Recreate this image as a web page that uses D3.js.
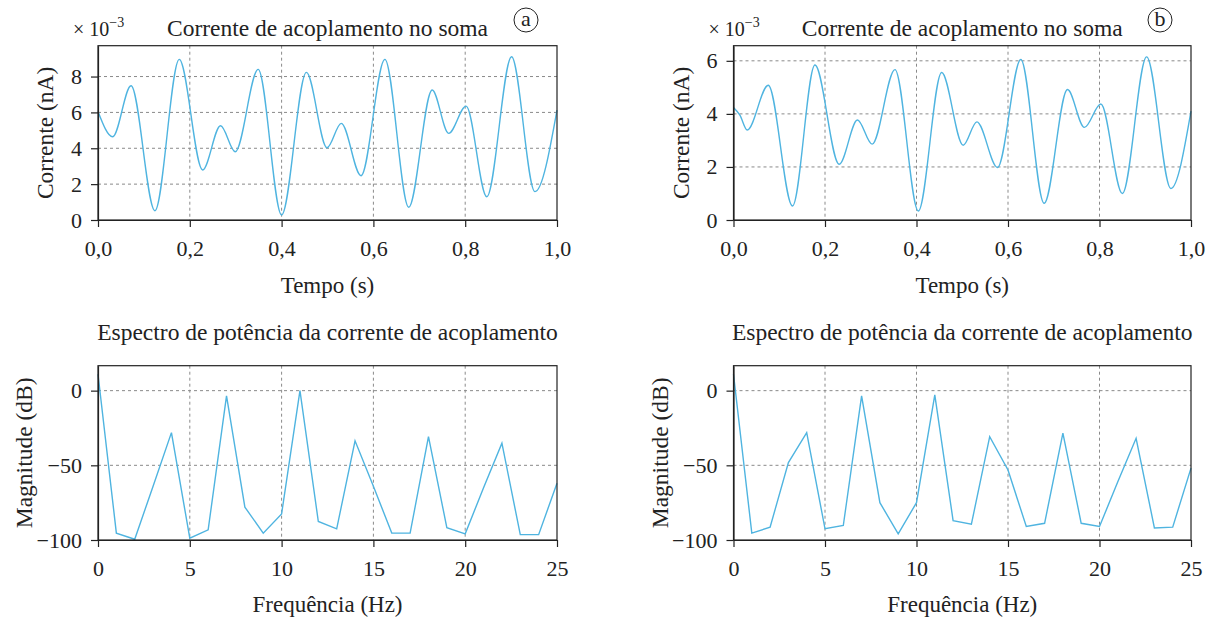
<!DOCTYPE html>
<html>
<head>
<meta charset="utf-8">
<script src="https://cdn.jsdelivr.net/npm/d3@7"></script>
<style>
  body { margin: 0; background: #fff; }
  svg text { font-family: "Liberation Serif", "DejaVu Serif", serif; fill: #222; }
</style>
</head>
<body>
<div id="chart"></div>
<script>
// coupling current in the soma (x 10^-3 nA), read at the extrema of the trace
const timeA = [0, 0.032, 0.072, 0.124, 0.177, 0.228, 0.267, 0.299, 0.349, 0.400, 0.454, 0.499,
  0.530, 0.573, 0.625, 0.677, 0.728, 0.764, 0.802, 0.847, 0.901, 0.952, 1.0];
const currentA = [6.05, 4.64, 7.49, 0.52, 8.96, 2.79, 5.26, 3.81, 8.40, 0.28, 8.23, 4.03,
  5.39, 2.47, 8.96, 0.71, 7.25, 4.83, 6.35, 1.30, 9.10, 1.58, 6.13];

const timeB = [0, 0.014, 0.030, 0.076, 0.129, 0.178, 0.231, 0.271, 0.303, 0.353, 0.404, 0.455,
  0.502, 0.532, 0.577, 0.628, 0.679, 0.730, 0.767, 0.803, 0.850, 0.903, 0.956, 1.0];
const currentB = [4.24, 3.95, 3.39, 5.08, 0.53, 5.84, 2.10, 3.77, 2.86, 5.67, 0.34, 5.56,
  2.82, 3.70, 1.98, 6.05, 0.63, 4.92, 3.49, 4.37, 1.00, 6.15, 1.19, 4.10];

// power spectrum (dB)
const freqHz = [0, 1, 2, 3, 4, 5, 6, 7, 8, 9, 10, 11, 12, 13, 14, 15, 16, 17, 18, 19, 20, 21, 22, 23, 24, 25];
const magnitudeA = [11, -95.4, -99.5, -64, -28.1, -98.8, -93.2, -3.5, -78.0, -95.4, -82.5, 0, -87.6,
  -92.5, -33.6, -64, -95.4, -95.4, -30.8, -91.7, -95.9, -65, -35.2, -96.4, -96.4, -62.0];
const magnitudeB = [11, -95.4, -91.4, -48.2, -28.1, -92.5, -90.3, -3.5, -75.0, -95.9, -75.0, -2.9, -87.0,
  -89.4, -30.8, -53.1, -91.0, -88.8, -28.5, -88.8, -91.0, -61, -31.9, -91.9, -91.4, -51.9];

const timeTicks = [0, 0.2, 0.4, 0.6, 0.8, 1.0];
const currentTicksA = [0, 2, 4, 6, 8];
const currentTicksB = [0, 2, 4, 6];
const freqTicks = [0, 5, 10, 15, 20, 25];
const dbTicks = [-100, -50, 0];

const W = 1210, H = 620;
const lineColor = '#4fb4e0';
const serif = '"Liberation Serif", "DejaVu Serif", serif';

const svg = d3.select('#chart').append('svg')
  .attr('width', W)
  .attr('height', H);

svg.append('rect').attr('width', W).attr('height', H).attr('fill', '#fff');

const fmtComma = d => d.toFixed(1).replace('.', ',');
const fmtMinus = d => (d < 0 ? '\u2212' : '') + Math.abs(d);

function drawPanel(p) {
  const width = p.right - p.left;
  const height = p.bottom - p.top;

  const g = svg.append('g')
    .attr('transform', `translate(${p.left}, ${p.top})`);

  const xScale = d3.scaleLinear().domain(p.xDomain).range([0, width]);
  const yScale = d3.scaleLinear().domain(p.yDomain).range([height, 0]);

  // grid
  g.append('g').selectAll('line')
    .data(p.yTicks.filter(d => yScale(d) > 1 && yScale(d) < height - 1))
    .join('line')
    .attr('x1', 0).attr('x2', width)
    .attr('y1', d => yScale(d)).attr('y2', d => yScale(d))
    .attr('stroke', '#8a8a8a').attr('stroke-width', 1).attr('stroke-dasharray', '3,3');

  g.append('g').selectAll('line')
    .data(p.xTicks.filter(d => xScale(d) > 1 && xScale(d) < width - 1))
    .join('line')
    .attr('x1', d => xScale(d)).attr('x2', d => xScale(d))
    .attr('y1', 0).attr('y2', height)
    .attr('stroke', '#8a8a8a').attr('stroke-width', 1).attr('stroke-dasharray', '3,3');

  // data line
  const line = d3.line()
    .x(d => xScale(d[0]))
    .y(d => yScale(d[1]))
    .curve(p.curve);

  g.append('path')
    .datum(p.xs.map((x, i) => [x, p.ys[i]]))
    .attr('d', line)
    .attr('fill', 'none')
    .attr('stroke', lineColor)
    .attr('stroke-width', 1.4);

  // box
  g.append('rect')
    .attr('width', width).attr('height', height)
    .attr('fill', 'none').attr('stroke', '#222').attr('stroke-width', 1.2);

  const xAxis = d3.axisBottom(xScale).tickValues(p.xTicks).tickFormat(p.xFormat)
    .tickSizeInner(7).tickSizeOuter(0).tickPadding(13);
  const yAxis = d3.axisLeft(yScale).tickValues(p.yTicks).tickFormat(p.yFormat)
    .tickSizeInner(7).tickSizeOuter(0).tickPadding(9);

  const gx = g.append('g').attr('transform', `translate(0, ${height})`).call(xAxis);
  const gy = g.append('g').call(yAxis);
  [gx, gy].forEach(a => {
    a.attr('font-family', null).attr('font-size', null);
    a.select('.domain').attr('stroke', '#222').attr('stroke-width', 1.2);
    a.selectAll('.tick line').attr('stroke', '#222').attr('stroke-width', 1.2);
    a.selectAll('.tick text')
      .style('font-family', serif)
      .style('font-size', '22px')
      .style('fill', '#222');
  });

  // title
  g.append('text')
    .attr('x', width / 2).attr('y', p.titleY - p.top)
    .attr('text-anchor', 'middle')
    .style('font-size', '23.5px')
    .text(p.title);

  // x label
  g.append('text')
    .attr('x', width / 2).attr('y', height + p.xLabelDy)
    .attr('text-anchor', 'middle')
    .style('font-size', '23px')
    .text(p.xLabel);

  // y label
  g.append('text')
    .attr('transform', `translate(${p.yLabelX - p.left}, ${height / 2}) rotate(-90)`)
    .attr('text-anchor', 'middle')
    .style('font-size', '23.5px')
    .text(p.yLabel);

  if (p.tag) {
    const cx = width - 31, cy = p.titleY - p.top - 16;
    g.append('circle').attr('cx', cx).attr('cy', cy).attr('r', 12)
      .attr('fill', 'none').attr('stroke', '#222').attr('stroke-width', 1);
    g.append('text').attr('x', cx).attr('y', cy + 6)
      .attr('text-anchor', 'middle').style('font-size', '22px')
      .text(p.tag);

    const m = g.append('text')
      .attr('x', -25).attr('y', p.titleY - p.top)
      .style('font-size', '20px');
    m.append('tspan').text('\u00d7 10');
    m.append('tspan').attr('dy', -9).style('font-size', '14px').text('\u22123');
  }
}

const topY = 45.7, topB = 220, botY = 365.7, botB = 540;

drawPanel({
  left: 98, right: 557, top: topY, bottom: topB,
  xDomain: [0, 1], yDomain: [0, 9.72],
  xTicks: timeTicks, yTicks: currentTicksA, xFormat: fmtComma, yFormat: d => d,
  xs: timeA, ys: currentA, curve: d3.curveMonotoneX,
  title: 'Corrente de acoplamento no soma', titleY: 36, tag: 'a',
  xLabel: 'Tempo (s)', xLabelDy: 73, yLabel: 'Corrente (nA)', yLabelX: 53
});

drawPanel({
  left: 733.5, right: 1191, top: topY, bottom: topB,
  xDomain: [0, 1], yDomain: [0, 6.57],
  xTicks: timeTicks, yTicks: currentTicksB, xFormat: fmtComma, yFormat: d => d,
  xs: timeB, ys: currentB, curve: d3.curveMonotoneX,
  title: 'Corrente de acoplamento no soma', titleY: 36, tag: 'b',
  xLabel: 'Tempo (s)', xLabelDy: 73, yLabel: 'Corrente (nA)', yLabelX: 689
});

drawPanel({
  left: 98, right: 557, top: botY, bottom: botB,
  xDomain: [0, 25], yDomain: [-100, 16.7],
  xTicks: freqTicks, yTicks: dbTicks, xFormat: d => d, yFormat: fmtMinus,
  xs: freqHz, ys: magnitudeA, curve: d3.curveLinear,
  title: 'Espectro de pot\u00eancia da corrente de acoplamento', titleY: 340,
  xLabel: 'Frequ\u00eancia (Hz)', xLabelDy: 72, yLabel: 'Magnitude (dB)', yLabelX: 32
});

drawPanel({
  left: 733.5, right: 1191, top: botY, bottom: botB,
  xDomain: [0, 25], yDomain: [-100, 16.7],
  xTicks: freqTicks, yTicks: dbTicks, xFormat: d => d, yFormat: fmtMinus,
  xs: freqHz, ys: magnitudeB, curve: d3.curveLinear,
  title: 'Espectro de pot\u00eancia da corrente de acoplamento', titleY: 340,
  xLabel: 'Frequ\u00eancia (Hz)', xLabelDy: 72, yLabel: 'Magnitude (dB)', yLabelX: 668
});
</script>
</body>
</html>
